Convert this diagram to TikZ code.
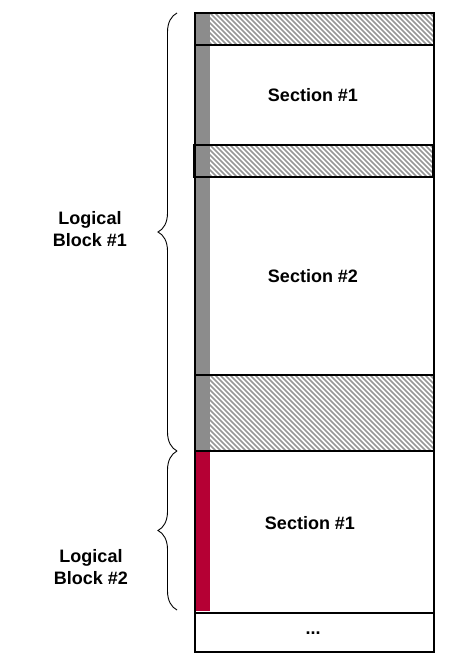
\documentclass[tikz,border=0pt]{standalone}
\usepackage{fontspec}
\setmainfont{Liberation Sans}
\usetikzlibrary{decorations.pathreplacing}
\definecolor{stripgray}{RGB}{140,140,140}
\definecolor{hatchgray}{RGB}{150,150,150}
\definecolor{blockred}{RGB}{181,0,52}
\tikzset{
  lbl/.style={font=\fontsize{18}{22}\selectfont\bfseries, align=center, inner sep=0pt},
  brc/.style={decorate, decoration={brace, amplitude=19pt}, line width=0.9pt},
  box/.style={draw=black, line width=1.2pt},
  thick box/.style={draw=black, line width=2.2pt}
}
\newcommand{\hatchregion}[4]{% x1,y1,x2,y2
  \begin{scope}
    \clip (#1,#2) rectangle (#3,#4);
    \pgfmathsetmacro{\hh}{#4-#2}
    \foreach \s in {-80,-75,...,250} {
      \draw[hatchgray, line width=1.6pt] ({#1+\s},#2) -- ({#1+\s+\hh},#4);
    }
  \end{scope}}
\begin{document}
\begin{tikzpicture}[x=1pt,y=-1pt]
\useasboundingbox (0,0) rectangle (454,663);
% hatch regions
\hatchregion{210}{13}{434}{45}
\hatchregion{210}{145}{434}{177}
\hatchregion{210}{375}{434}{451}
% strips
\fill[stripgray] (195,13) rectangle (210,451);
\fill[blockred] (195,452) rectangle (210,611);
% outlines
\draw[box] (195,13) rectangle (434,652);
\draw[box] (195,45) -- (434,45);
\draw[box] (195,375) -- (434,375);
\draw[box] (195,613) -- (434,613);
\draw[thick box] (194.5,145) rectangle (433.5,177);
\draw[thick box] (195,451) -- (434,451);
% texts
\node[lbl] (s1) at (313,95) {Section \#1};
\node[lbl] (s2) at (313,276) {Section \#2};
\node[lbl] (s3) at (310,523) {Section \#1};
\node[lbl] (dots) at (313,633) {...};
\node[lbl] (lb1) at (90,229) {Logical\\Block \#1};
\node[lbl] (lb2) at (91,567) {Logical\\Block \#2};
% braces
\coordinate (b1t) at (177,13);
\coordinate (b1b) at (177,451);
\coordinate (b2t) at (177,451);
\coordinate (b2b) at (177,610);
\draw[brc] (b1b) -- (b1t);
\draw[brc] (b2b) -- (b2t);
\end{tikzpicture}
\end{document}
